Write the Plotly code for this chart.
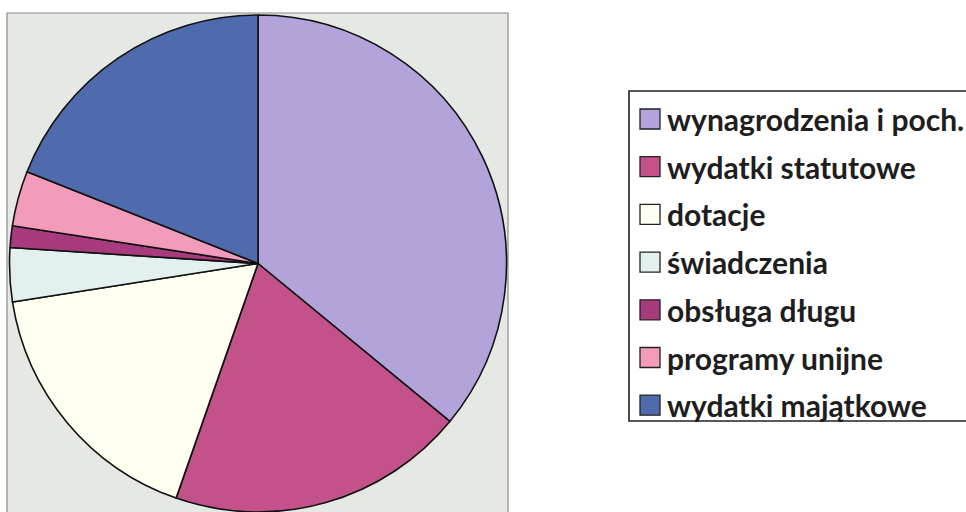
import plotly.graph_objects as go

labels = ["wynagrodzenia i poch.", "wydatki statutowe", "dotacje", "świadczenia",
          "obsługa długu", "programy unijne", "wydatki majątkowe"]
values = [36.0, 19.4, 17.2, 3.5, 1.4, 3.6, 19.0]
colors = ["#B2A3DA", "#C4528A", "#FFFFF2", "#E2F0F0", "#A83B7E", "#F39BBA", "#4F6BAE"]

W, H = 966, 512

def px(x):
    return x / W

def py(y):
    return 1 - y / H

fig = go.Figure()
fig.add_trace(go.Pie(
    labels=labels, values=values, sort=False, direction="clockwise", rotation=0,
    marker=dict(colors=colors, line=dict(color="#111111", width=1.6)),
    textinfo="none", hoverinfo="label+percent", showlegend=False,
    domain=dict(x=[px(8), px(508)], y=[0, py(15)]),
))

shapes = [
    # plot-area frame
    dict(type="rect", xref="paper", yref="paper", x0=px(7), x1=px(508), y0=py(520), y1=py(13),
         fillcolor="#E6E8E4", line=dict(color="#8A8A8A", width=1.2), layer="below"),
    # legend box
    dict(type="rect", xref="paper", yref="paper", x0=px(629), x1=px(975), y0=py(421), y1=py(91),
         fillcolor="white", line=dict(color="#222222", width=1.6), layer="below"),
]
annotations = []
y0, step = 119, 47.7
for i, (lab, col) in enumerate(zip(labels, colors)):
    yc = y0 + i * step
    shapes.append(dict(type="rect", xref="paper", yref="paper",
                       x0=px(640), x1=px(660), y0=py(yc + 10), y1=py(yc - 10),
                       fillcolor=col, line=dict(color="#222222", width=1.3)))
    annotations.append(dict(xref="paper", yref="paper", x=px(665), y=py(yc), text=lab,
                            showarrow=False, xanchor="left", yanchor="middle",
                            font=dict(family="Lato", size=30, color="#1E1E1E", weight="bold")))

fig.update_layout(
    width=W, height=H, margin=dict(l=0, r=0, t=0, b=0),
    paper_bgcolor="white", plot_bgcolor="white",
    shapes=shapes, annotations=annotations,
)
fig.write_html("out.html", config={"displayModeBar": False},
               post_script="document.body.style.margin='0';")
